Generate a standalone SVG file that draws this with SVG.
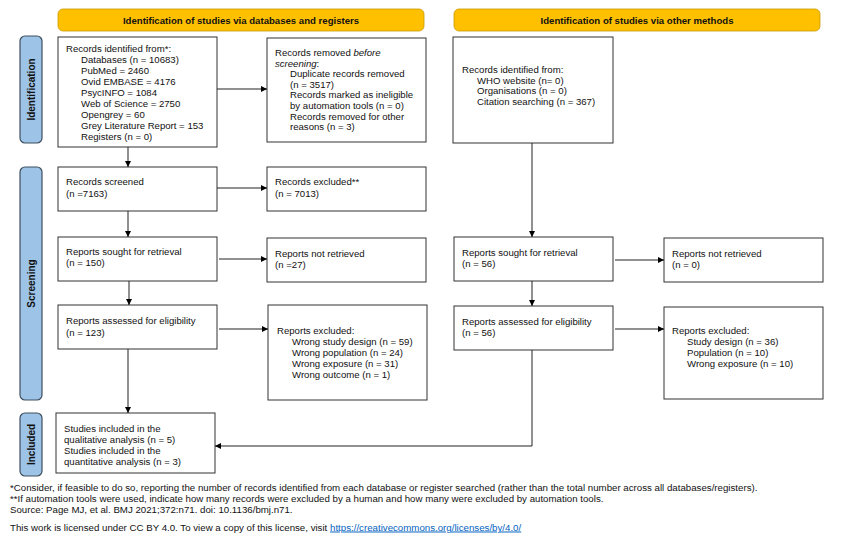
<svg xmlns="http://www.w3.org/2000/svg" width="845" height="535" viewBox="0 0 845 535">
<defs>
<marker id="ah" viewBox="0 0 10 10" refX="10" refY="5" markerWidth="6" markerHeight="6" orient="auto" markerUnits="userSpaceOnUse">
<path d="M0,0 L10,5 L0,10 z" fill="#000"/>
</marker>
<style>
text{font-family:"Liberation Sans",Arial,sans-serif;font-size:9.6px;fill:#111}
.hdr rect{fill:#FFC000;stroke:#C99A00;stroke-width:0.8}
.hdr text{font-weight:bold;text-anchor:middle}
.side rect{fill:#9DC3E6;stroke:#3F4F5F;stroke-width:1.2}
.side text{font-weight:bold;text-anchor:middle;font-size:10px}
.box rect{fill:#fff;stroke:#333;stroke-width:1}
.conn line,.conn path{stroke:#222;stroke-width:1;fill:none}
.foot{font-size:9.7px}
.link{fill:#0563C1;text-decoration:underline}
</style>
</defs>
<rect width="845" height="535" fill="#fff"/>

<g id="hdr-left" class="hdr"><rect x="58" y="9" width="366" height="22" rx="5"/><text x="241" y="23.5">Identification of studies via databases and registers</text></g>
<g id="hdr-right" class="hdr"><rect x="454" y="9" width="366" height="22" rx="5"/><text x="637" y="23.5">Identification of studies via other methods</text></g>

<g id="side-identification" class="side"><rect x="20" y="36" width="22" height="107" rx="5"/><text transform="translate(34.5,89.5) rotate(-90)">Identification</text></g>
<g id="side-screening" class="side"><rect x="20" y="167" width="22" height="233" rx="5"/><text transform="translate(34.5,283.5) rotate(-90)">Screening</text></g>
<g id="side-included" class="side"><rect x="20" y="413" width="22" height="63" rx="5"/><text transform="translate(34.5,444.5) rotate(-90)">Included</text></g>

<g id="records-identified" class="box"><rect x="58" y="37" width="159" height="110"/>
<text x="66" y="52">Records identified from*:</text>
<text x="81" y="63">Databases (n = 10683)</text>
<text x="81" y="74">PubMed = 2460</text>
<text x="81" y="85">Ovid EMBASE = 4176</text>
<text x="81" y="96">PsycINFO = 1084</text>
<text x="81" y="107">Web of Science = 2750</text>
<text x="81" y="118">Opengrey = 60</text>
<text x="81" y="129">Grey Literature Report = 153</text>
<text x="81" y="140">Registers (n = 0)</text>
</g>

<g id="records-removed" class="box"><rect x="267" y="38" width="159" height="104"/>
<text x="275" y="56">Records removed <tspan font-style="italic">before</tspan></text>
<text x="275" y="66.6" font-style="italic">screening<tspan font-style="normal">:</tspan></text>
<text x="290" y="77.2">Duplicate records removed</text>
<text x="290" y="87.8">(n = 3517)</text>
<text x="290" y="98.4">Records marked as ineligible</text>
<text x="290" y="109">by automation tools (n = 0)</text>
<text x="290" y="119.6">Records removed for other</text>
<text x="290" y="130.2">reasons (n = 3)</text>
</g>

<g id="records-other" class="box"><rect x="453" y="37" width="160" height="106"/>
<text x="462" y="73">Records identified from:</text>
<text x="477" y="83.5">WHO website (n= 0)</text>
<text x="477" y="94">Organisations (n = 0)</text>
<text x="477" y="104.5">Citation searching (n = 367)</text>
</g>

<g id="records-screened" class="box"><rect x="58" y="167" width="159" height="44"/>
<text x="66" y="185">Records screened</text><text x="66" y="197">(n =7163)</text></g>

<g id="records-excluded" class="box"><rect x="267" y="167" width="159" height="44"/>
<text x="275" y="185">Records excluded**</text><text x="275" y="197">(n = 7013)</text></g>

<g id="sought-left" class="box"><rect x="58" y="237" width="159" height="44"/>
<text x="66" y="255">Reports sought for retrieval</text><text x="66" y="266">(n = 150)</text></g>

<g id="notret-left" class="box"><rect x="267" y="238" width="159" height="44"/>
<text x="275" y="257">Reports not retrieved</text><text x="275" y="268">(n =27)</text></g>

<g id="sought-right" class="box"><rect x="454" y="237" width="159" height="44"/>
<text x="462" y="256">Reports sought for retrieval</text><text x="462" y="267">(n = 56)</text></g>

<g id="notret-right" class="box"><rect x="664" y="238" width="159" height="44"/>
<text x="672" y="257">Reports not retrieved</text><text x="672" y="268">(n = 0)</text></g>

<g id="assessed-left" class="box"><rect x="58" y="305" width="159" height="44"/>
<text x="66" y="324">Reports assessed for eligibility</text><text x="66" y="336">(n = 123)</text></g>

<g id="excluded-left" class="box"><rect x="268" y="305" width="159" height="95"/>
<text x="277" y="334">Reports excluded:</text>
<text x="292" y="345">Wrong study design (n = 59)</text>
<text x="292" y="356">Wrong population (n = 24)</text>
<text x="292" y="367">Wrong exposure (n = 31)</text>
<text x="292" y="378">Wrong outcome (n = 1)</text>
</g>

<g id="assessed-right" class="box"><rect x="454" y="306" width="159" height="44"/>
<text x="462" y="325">Reports assessed for eligibility</text><text x="462" y="336">(n = 56)</text></g>

<g id="excluded-right" class="box"><rect x="664" y="307" width="159" height="92"/>
<text x="672" y="334">Reports excluded:</text>
<text x="687" y="345">Study design (n = 36)</text>
<text x="687" y="356">Population (n = 10)</text>
<text x="687" y="367">Wrong exposure (n = 10)</text>
</g>

<g id="included" class="box"><rect x="56" y="413" width="159" height="60"/>
<text x="64" y="432">Studies included in the</text>
<text x="64" y="443">qualitative analysis (n = 5)</text>
<text x="64" y="454">Studies included in the</text>
<text x="64" y="465">quantitative analysis (n = 3)</text>
</g>

<g id="connectors" class="conn">
<line x1="217" y1="89" x2="267" y2="89" marker-end="url(#ah)"/>
<line x1="128" y1="147" x2="128" y2="167" marker-end="url(#ah)"/>
<line x1="217" y1="188" x2="267" y2="188" marker-end="url(#ah)"/>
<line x1="128" y1="211" x2="128" y2="237" marker-end="url(#ah)"/>
<line x1="219" y1="259" x2="267" y2="259" marker-end="url(#ah)"/>
<line x1="129" y1="281" x2="129" y2="305" marker-end="url(#ah)"/>
<line x1="219" y1="329" x2="268" y2="329" marker-end="url(#ah)"/>
<line x1="128" y1="349" x2="128" y2="413" marker-end="url(#ah)"/>
<line x1="532" y1="143" x2="532" y2="237" marker-end="url(#ah)"/>
<line x1="615" y1="260" x2="664" y2="260" marker-end="url(#ah)"/>
<line x1="532" y1="281" x2="532" y2="306" marker-end="url(#ah)"/>
<line x1="615" y1="329" x2="664" y2="329" marker-end="url(#ah)"/>
<path d="M532,350 V446 H215" marker-end="url(#ah)"/>
</g>

<g id="footnotes">
<text class="foot" x="10" y="490.5">*Consider, if feasible to do so, reporting the number of records identified from each database or register searched (rather than the total number across all databases/registers).</text>
<text class="foot" x="10" y="501.5">**If automation tools were used, indicate how many records were excluded by a human and how many were excluded by automation tools.</text>
<text class="foot" x="10" y="512.5">Source: Page MJ, et al. BMJ 2021;372:n71. doi: 10.1136/bmj.n71.</text>
<text class="foot" x="10" y="530.5">This work is licensed under CC BY 4.0. To view a copy of this license, visit <tspan class="link">https://creativecommons.org/licenses/by/4.0/</tspan></text>
</g>
</svg>
